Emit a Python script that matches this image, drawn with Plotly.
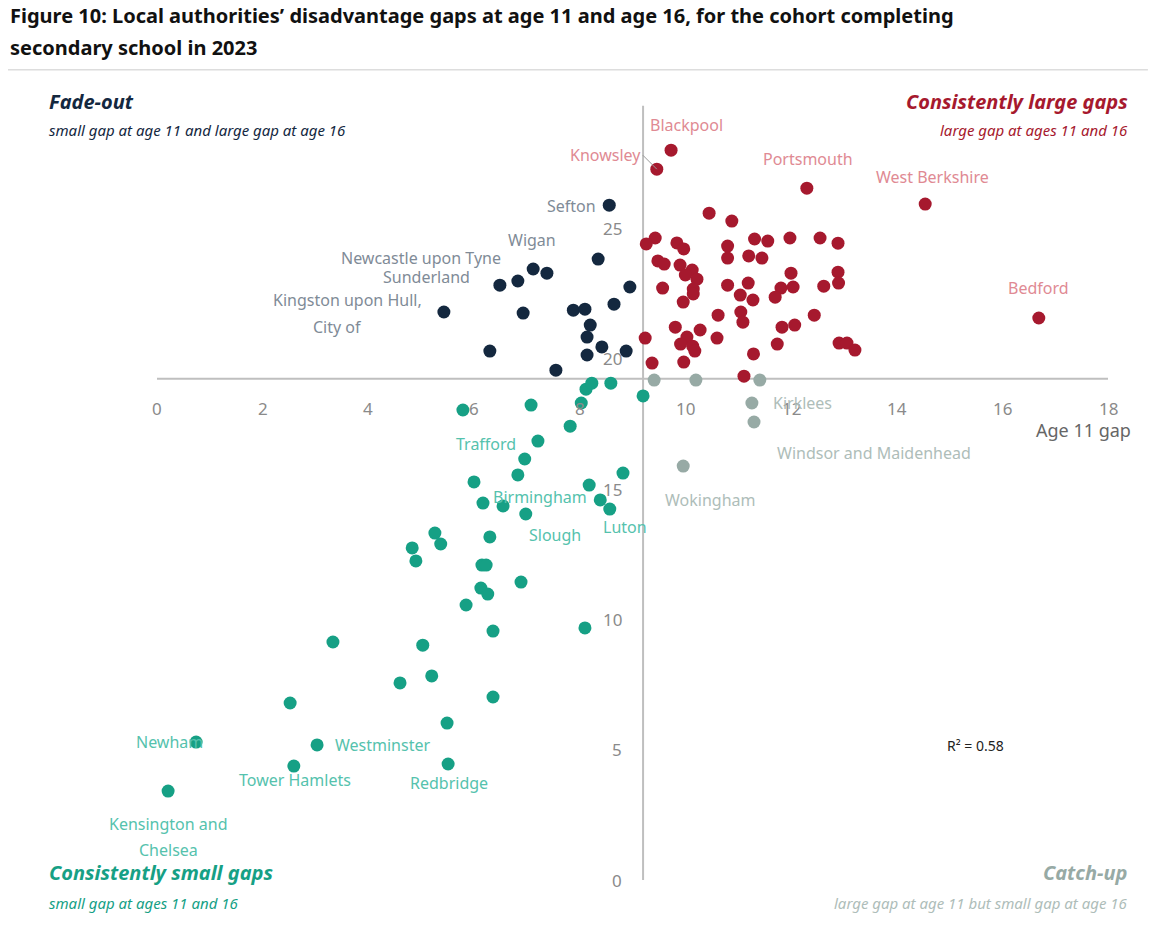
import plotly.graph_objects as go

navy_x=[8.56,8.35,7.12,7.38,6.83,6.49,8.95,8.65,5.43,6.93,7.88,8.10,8.20,8.14,8.42,8.14,8.88,6.30,7.55]
navy_y=[25.89,23.82,23.44,23.28,22.98,22.82,22.75,22.09,21.79,21.75,21.86,21.90,21.29,20.83,20.45,20.14,20.29,20.29,19.56]
red_x=[9.73,9.46,12.30,14.54,16.69,10.45,10.88,9.43,9.26,9.84,9.97,10.80,11.31,11.56,11.98,12.55,12.89,10.80,11.20,11.45,9.48,9.60,10.13,9.90,10.22,10.00,12.00,12.89,10.80,11.19,12.90,9.57,10.15,10.15,11.81,12.04,12.62,11.04,11.70,11.28,9.96,10.62,11.05,11.09,12.44,9.81,10.28,11.83,12.07,9.24,10.03,9.91,10.14,10.60,11.74,12.91,13.06,13.21,10.18,11.29,9.37,9.97,11.11]
red_y=[28.00,27.27,26.54,25.93,21.56,25.58,25.28,24.63,24.40,24.44,24.21,24.32,24.59,24.51,24.63,24.63,24.43,23.86,23.94,23.86,23.75,23.63,23.40,23.59,23.05,23.21,23.28,23.32,22.82,22.90,22.90,22.71,22.67,22.48,22.71,22.75,22.78,22.44,22.36,22.25,22.17,21.67,21.79,21.40,21.67,21.21,21.10,21.21,21.29,20.79,20.83,20.56,20.48,20.79,20.56,20.60,20.60,20.33,20.29,20.18,19.83,19.87,19.33]
grey_x=[9.41,10.20,11.41,11.26,11.30,9.96]
grey_y=[19.18,19.18,19.18,18.30,17.57,15.88]
teal_x=[8.12,8.23,8.59,9.20,8.03,7.08,5.79,7.82,7.21,6.96,6.83,8.82,6.00,8.18,8.39,8.57,6.17,6.55,6.98,5.26,6.30,5.37,4.83,4.90,6.15,6.23,6.89,6.13,6.26,5.85,8.10,6.36,3.33,5.03,5.20,4.60,2.52,6.36,5.49,0.74,3.03,2.59,5.51,0.21]
teal_y=[18.83,19.06,19.06,18.57,18.30,18.22,18.03,17.41,16.84,16.15,15.54,15.61,15.27,15.15,14.58,14.23,14.46,14.35,14.04,13.31,13.16,12.89,12.74,12.24,12.08,12.08,11.43,11.20,10.97,10.55,9.67,9.55,9.13,9.01,7.83,7.56,6.79,7.02,6.02,5.29,5.18,4.37,4.45,3.41]

x_ticks=[0,2,4,6,8,10,12,14,16,18]
y_ticks=[0,5,10,15,20,25]
x_cross=9.2
y_cross=19.23

RED="#a6192e"; NAVY="#14283f"; TEAL="#16a085"; GREY="#97aaa5"
RED_L="#e08a93"; NAVY_L="#7f8b97"; TEAL_L="#55c2ad"; GREY_L="#aebdb9"

labels=[("Blackpool",10.03,28.98,RED_L,"center"),("Portsmouth",12.32,27.66,RED_L,"center"),
("West Berkshire",14.67,26.97,RED_L,"center"),("Bedford",16.68,22.71,RED_L,"center"),
("Sefton",7.84,25.85,NAVY_L,"center"),("Wigan",7.10,24.55,NAVY_L,"center"),
("Newcastle upon Tyne",5.0,23.86,NAVY_L,"center"),("Sunderland",5.11,23.13,NAVY_L,"center"),
("Kingston upon Hull,",5.05,22.25,NAVY_L,"right"),("City of",3.91,21.21,NAVY_L,"right"),
("Kirklees",12.21,18.30,GREY_L,"center"),("Windsor and Maidenhead",13.57,16.38,GREY_L,"center"),
("Wokingham",10.47,14.58,GREY_L,"center"),("Trafford",6.23,16.72,TEAL_L,"center"),
("Birmingham",7.25,14.69,TEAL_L,"center"),("Slough",7.53,13.23,TEAL_L,"center"),
("Luton",8.86,13.54,TEAL_L,"center"),
("Westminster",4.26,5.18,TEAL_L,"center"),("Tower Hamlets",2.61,3.84,TEAL_L,"center"),
("Redbridge",5.53,3.72,TEAL_L,"center"),("Kensington and",0.21,2.15,TEAL_L,"center"),
("Chelsea",0.21,1.15,TEAL_L,"center")]

fig=go.Figure()
for xs,ys,c in [(teal_x,teal_y,TEAL),(grey_x,grey_y,GREY),(navy_x,navy_y,NAVY),(red_x,red_y,RED)]:
    fig.add_trace(go.Scatter(x=xs,y=ys,mode="markers",marker=dict(color=c,size=13),cliponaxis=False,showlegend=False))

fig.add_shape(type="line",x0=0,x1=18,y0=y_cross,y1=y_cross,line=dict(color="#bfbfbf",width=2),layer="below")
fig.add_shape(type="line",x0=x_cross,x1=x_cross,y0=0,y1=29.7,line=dict(color="#bfbfbf",width=2),layer="below")

F="Noto Sans"
LS=16
ann=[]
for t in x_ticks:
    ann.append(dict(x=t,y=18.1,text=str(t),showarrow=False,font=dict(color="#8a8a8a",size=17,family=F)))
for t in y_ticks:
    ann.append(dict(x=8.84,y=t,text=str(t),showarrow=False,xanchor="right",font=dict(color="#8a8a8a",size=17,family=F)))
for t,x,y,c,a in labels:
    ann.append(dict(x=x,y=y,text=t,showarrow=False,xanchor=a,font=dict(color=c,size=LS,family=F)))
ann.append(dict(xref="paper",x=-0.024,y=5.29,text="Newham",showarrow=False,font=dict(color=TEAL_L,size=LS,family=F)))
ann.append(dict(x=9.46,y=27.27,ax=-14,ay=-14,text="Knowsley",showarrow=True,arrowhead=0,arrowcolor="#999",
                xanchor="right",font=dict(color=RED_L,size=LS,family=F)))
ann.append(dict(x=9.14,y=30.26,text="Age 16 gap",showarrow=False,font=dict(color="#666",size=18,family=F)))
ann.append(dict(x=17.53,y=17.26,text="Age 11 gap",showarrow=False,font=dict(color="#666",size=18,family=F)))
ann.append(dict(x=15.5,y=5.15,text="R² = 0.58",showarrow=False,font=dict(color="#222",size=14,family=F)))

def P(x,y,text,xa,col,size,bold=False):
    t="<i>"+("<b>"+text+"</b>" if bold else text)+"</i>"
    ann.append(dict(xref="paper",yref="paper",x=x,y=y,text=t,showarrow=False,xanchor=xa,yanchor="middle",
                    font=dict(color=col,size=size,family=F)))
P(-0.1157,0.996,"Fade-out","left",NAVY,20,True)
P(-0.1157,0.959,"small gap at age 11 and large gap at age 16","left",NAVY,15)
P(1.023,0.996,"Consistently large gaps","right",RED,20,True)
P(1.023,0.959,"large gap at ages 11 and 16","right",RED,15)
P(-0.1157,0.0102,"Consistently small gaps","left",TEAL,20,True)
P(-0.1157,-0.0294,"small gap at ages 11 and 16","left",TEAL,15)
P(1.023,0.0102,"Catch-up","right",GREY,20,True)
P(1.023,-0.0294,"large gap at age 11 but small gap at age 16","right",GREY_L,15)
for y,t in [(1.106,"Figure 10: Local authorities’ disadvantage gaps at age 11 and age 16, for the cohort completing"),
            (1.064,"secondary school in 2023")]:
    ann.append(dict(xref="paper",yref="paper",x=-0.157,y=y,text="<b>"+t+"</b>",showarrow=False,xanchor="left",
                    yanchor="middle",font=dict(color="#111",size=20,family=F)))
fig.add_shape(type="line",xref="paper",yref="paper",x0=-0.157,x1=1.042,y0=1.036,y1=1.036,line=dict(color="#cccccc",width=1))

fig.update_layout(width=1169,height=934,margin=dict(l=149,r=69,t=90,b=62),plot_bgcolor="white",paper_bgcolor="white",
    annotations=ann,
    xaxis=dict(range=[0,18],visible=False),yaxis=dict(range=[0,30],visible=False))
fig.write_html("out.html")
